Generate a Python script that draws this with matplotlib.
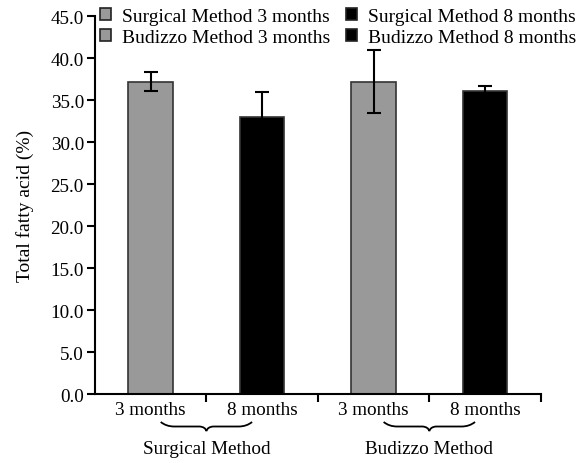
import matplotlib
matplotlib.use("Agg")
import matplotlib.pyplot as plt
from matplotlib.patches import Patch
from matplotlib.path import Path
from matplotlib.patches import PathPatch
import numpy as np

plt.rcParams['font.family'] = ['Liberation Serif', 'DejaVu Serif']

tick_labels = ["3 months", "8 months", "3 months", "8 months"]
values = [37.2, 33.0, 37.2, 36.1]
errors = [1.1, 2.9, 3.7, 0.6]
colors = ["#999999", "#000000", "#999999", "#000000"]
groups = ["Surgical Method", "Budizzo Method"]
legend_labels = ["Surgical Method 3 months", "Budizzo Method 3 months",
                 "Surgical Method 8 months", "Budizzo Method 8 months"]
legend_colors = ["#999999", "#999999", "#000000", "#000000"]

FS = 13.8
fig = plt.figure(figsize=(5.79, 4.64), dpi=100)
ax = fig.add_axes([0.164, 0.1487, 0.770, 0.8146])

x = np.arange(len(values))
ax.bar(x, values, width=0.4, color=colors, edgecolor="#333333", linewidth=1.2,
       yerr=errors, capsize=5, error_kw=dict(elinewidth=1.5, capthick=1.5, ecolor="#000000"),
       zorder=2)

ax.set_xlim(-0.5, 3.5)
ax.set_ylim(0, 45)
ax.set_yticks(np.arange(0, 45.1, 5))
ax.set_yticklabels([f"{v:.1f}" for v in np.arange(0, 45.1, 5)], fontsize=FS)
ax.set_xticks([0.5, 1.5, 2.5, 3.5])
ax.set_xticklabels([])
ax.set_xticks(x, minor=True)
ax.set_xticklabels(tick_labels, minor=True, fontsize=FS)
ax.tick_params(axis='x', which='minor', length=0, pad=5)
ax.tick_params(axis='x', which='major', length=6, width=1.5, direction='out')
ax.tick_params(axis='y', length=6, width=1.5, direction='out', pad=2)
for s in ['top', 'right']:
    ax.spines[s].set_visible(False)
for s in ['left', 'bottom']:
    ax.spines[s].set_linewidth(1.5)
ax.set_ylabel("Total fatty acid (%)", fontsize=14, labelpad=12)

# braces and group labels
trans = ax.get_xaxis_transform()
def brace(x0, x1, ytop, ybot):
    xm = (x0 + x1) / 2
    h = ytop - ybot
    verts = [(x0, ytop), (x0 + 0.05, ytop - 0.5*h), (x0 + 0.12, ytop - 0.5*h), (xm - 0.06, ytop - 0.5*h),
             (xm - 0.01, ytop - 0.55*h), (xm, ybot),
             (xm + 0.01, ytop - 0.55*h), (xm + 0.06, ytop - 0.5*h),
             (x1 - 0.12, ytop - 0.5*h), (x1 - 0.05, ytop - 0.5*h), (x1, ytop)]
    codes = [Path.MOVETO, Path.CURVE3, Path.CURVE3, Path.LINETO, Path.CURVE3, Path.CURVE3,
             Path.CURVE3, Path.CURVE3, Path.LINETO, Path.CURVE3, Path.CURVE3]
    p = PathPatch(Path(verts, codes), transform=trans, fill=False, lw=1.3,
                  edgecolor="black", clip_on=False)
    ax.add_patch(p)

for i, g in enumerate(groups):
    c = 0.5 + 2 * i
    brace(c - 0.41, c + 0.41, -0.074, -0.098)
    ax.text(c, -0.122, g, transform=trans, ha='center', va='top', fontsize=FS)

handles = [Patch(facecolor=c, edgecolor="#222222", linewidth=1.2) for c in legend_colors]
fig.legend(handles, legend_labels, ncol=2, loc='upper left', bbox_to_anchor=(0.172, 0.981),
           frameon=False, fontsize=14, handlelength=0.6, handleheight=0.6,
           handletextpad=0.55, columnspacing=0.8, labelspacing=0.22,
           borderpad=0, borderaxespad=0)

fig.savefig("out.png", dpi=100)
